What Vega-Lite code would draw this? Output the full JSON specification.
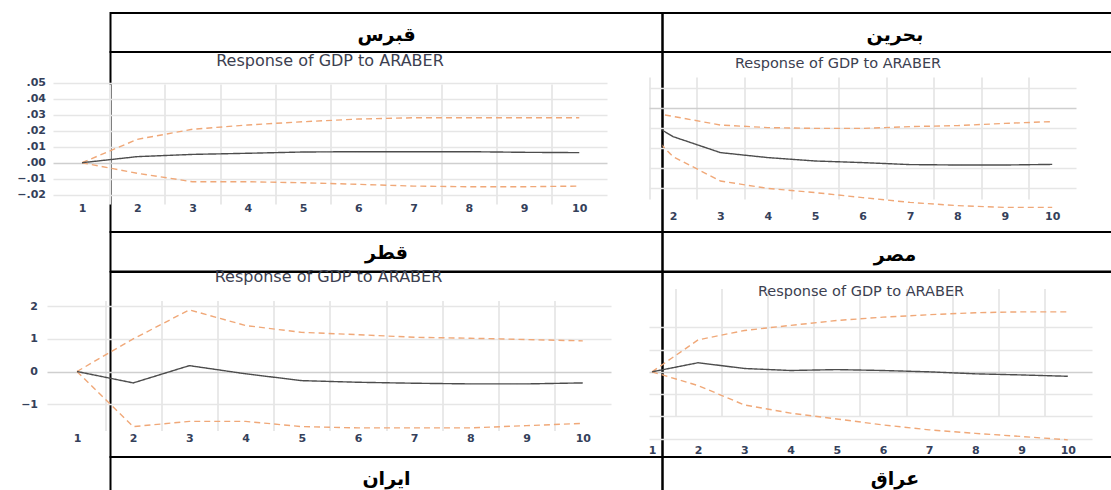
{
  "$schema": "https://vega.github.io/schema/vega-lite/v6.json",
  "background": "white",
  "padding": {"left": 15.5, "top": 12, "right": 0, "bottom": 0},
  "columns": 2,
  "spacing": 0,
  "bounds": "flush",
  "datasets": {
    "irf": [
      {"country": "Cyprus", "period": 1, "response": 0, "lower": 0, "upper": 0},
      {"country": "Cyprus", "period": 2, "response": 0.0038, "lower": -0.0066, "upper": 0.0146},
      {"country": "Cyprus", "period": 3, "response": 0.0052, "lower": -0.0119, "upper": 0.0209},
      {"country": "Cyprus", "period": 4, "response": 0.0059, "lower": -0.0119, "upper": 0.0236},
      {"country": "Cyprus", "period": 5, "response": 0.0067, "lower": -0.0125, "upper": 0.0256},
      {"country": "Cyprus", "period": 6, "response": 0.0069, "lower": -0.0135, "upper": 0.0273},
      {"country": "Cyprus", "period": 7, "response": 0.0069, "lower": -0.0146, "upper": 0.0281},
      {"country": "Cyprus", "period": 8, "response": 0.0069, "lower": -0.0150, "upper": 0.0281},
      {"country": "Cyprus", "period": 9, "response": 0.0065, "lower": -0.0150, "upper": 0.0281},
      {"country": "Cyprus", "period": 10, "response": 0.0063, "lower": -0.0146, "upper": 0.0281},
      {"country": "Bahrain", "period": 1, "response": 0, "lower": 0, "upper": 0},
      {"country": "Bahrain", "period": 2, "response": -0.0143, "lower": -0.0243, "upper": -0.0042},
      {"country": "Bahrain", "period": 3, "response": -0.0223, "lower": -0.0365, "upper": -0.0085},
      {"country": "Bahrain", "period": 4, "response": -0.0248, "lower": -0.0402, "upper": -0.0098},
      {"country": "Bahrain", "period": 5, "response": -0.0265, "lower": -0.0423, "upper": -0.0102},
      {"country": "Bahrain", "period": 6, "response": -0.0273, "lower": -0.0448, "upper": -0.0102},
      {"country": "Bahrain", "period": 7, "response": -0.0283, "lower": -0.0472, "upper": -0.0093},
      {"country": "Bahrain", "period": 8, "response": -0.0285, "lower": -0.0488, "upper": -0.0088},
      {"country": "Bahrain", "period": 9, "response": -0.0285, "lower": -0.0497, "upper": -0.0077},
      {"country": "Bahrain", "period": 10, "response": -0.0282, "lower": -0.0497, "upper": -0.0068},
      {"country": "Qatar", "period": 1, "response": 0, "lower": 0, "upper": 0},
      {"country": "Qatar", "period": 2, "response": -0.35, "lower": -1.69, "upper": 1.00},
      {"country": "Qatar", "period": 3, "response": 0.18, "lower": -1.53, "upper": 1.89},
      {"country": "Qatar", "period": 4, "response": -0.07, "lower": -1.53, "upper": 1.41},
      {"country": "Qatar", "period": 5, "response": -0.28, "lower": -1.69, "upper": 1.20},
      {"country": "Qatar", "period": 6, "response": -0.33, "lower": -1.73, "upper": 1.13},
      {"country": "Qatar", "period": 7, "response": -0.36, "lower": -1.73, "upper": 1.05},
      {"country": "Qatar", "period": 8, "response": -0.38, "lower": -1.73, "upper": 1.02},
      {"country": "Qatar", "period": 9, "response": -0.38, "lower": -1.66, "upper": 0.98},
      {"country": "Qatar", "period": 10, "response": -0.35, "lower": -1.59, "upper": 0.94},
      {"country": "Egypt", "period": 1, "response": 0, "lower": 0, "upper": 0},
      {"country": "Egypt", "period": 2, "response": 0.41, "lower": -0.62, "upper": 1.44},
      {"country": "Egypt", "period": 3, "response": 0.15, "lower": -1.49, "upper": 1.86},
      {"country": "Egypt", "period": 4, "response": 0.06, "lower": -1.86, "upper": 2.09},
      {"country": "Egypt", "period": 5, "response": 0.10, "lower": -2.12, "upper": 2.31},
      {"country": "Egypt", "period": 6, "response": 0.06, "lower": -2.39, "upper": 2.46},
      {"country": "Egypt", "period": 7, "response": 0.00, "lower": -2.61, "upper": 2.57},
      {"country": "Egypt", "period": 8, "response": -0.09, "lower": -2.77, "upper": 2.66},
      {"country": "Egypt", "period": 9, "response": -0.14, "lower": -2.91, "upper": 2.70},
      {"country": "Egypt", "period": 10, "response": -0.20, "lower": -3.06, "upper": 2.70}
    ]
  },
  "concat": [
    {
      "width": 552, "height": 39,
      "data": {"values": [{"name": "قبرس"}]},
      "mark": {"type": "text", "font": "DejaVu Sans", "fontSize": 19, "fontWeight": "bold", "baseline": "middle", "color": "#000", "dy": 2},
      "encoding": {
        "x": {"datum": 0.5, "type": "quantitative", "scale": {"domain": [0, 1]}, "axis": null},
        "y": {"datum": 0.5, "type": "quantitative", "scale": {"domain": [0, 1]}, "axis": null},
        "text": {"field": "name"}
      }
    },
    {
      "width": 450, "height": 39,
      "data": {"values": [{"name": "بحرين"}]},
      "mark": {"type": "text", "font": "DejaVu Sans", "fontSize": 19, "fontWeight": "bold", "baseline": "middle", "color": "#000", "dy": 2, "dx": 7.5},
      "encoding": {
        "x": {"datum": 0.5, "type": "quantitative", "scale": {"domain": [0, 1]}, "axis": null},
        "y": {"datum": 0.5, "type": "quantitative", "scale": {"domain": [0, 1]}, "axis": null},
        "text": {"field": "name"}
      }
    },
    {
      "width": 552, "height": 180,
      "data": {"name": "irf"},
      "transform": [
        {"filter": "datum.country === 'Cyprus'"},
        {"fold": ["lower", "upper", "response"], "as": ["series", "value"]}
      ],
      "title": {"text": "Response of GDP to ARABER", "frame": "group", "anchor": "middle", "orient": "top", "baseline": "middle", "offset": -25, "dx": -56.5, "fontSize": 16},
      "mark": {"type": "line", "strokeWidth": 1.4},
      "encoding": {
        "x": {"field": "period", "type": "quantitative",
          "scale": {"domain": [0.4751, 10.502], "range": [-57.5, 496.5], "nice": false, "zero": false},
          "axis": {"title": null, "offset": -29.5, "values": [1, 1.5, 2, 2.5, 3, 3.5, 4, 4.5, 5, 5.5, 6, 6.5, 7, 7.5, 8, 8.5, 9, 9.5, 10],
            "labelExpr": "datum.value % 1 === 0 ? format(datum.value, 'd') : ''",
            "gridOpacity": {"condition": {"test": "datum.value % 1 === 0", "value": 0}, "value": 1}}},
        "y": {"field": "value", "type": "quantitative",
          "scale": {"domain": [-0.0233, 0.0517], "range": [148, 28], "nice": false, "zero": false},
          "axis": {"title": null, "offset": 65, "values": [-0.02, -0.01, 0, 0.01, 0.02, 0.03, 0.04, 0.05],
            "labelExpr": "replace(format(datum.value, '.2f'), '0.', '.')",
            "gridColor": {"condition": {"test": "datum.value === 0", "value": "#cfcfcf"}, "value": "#e6e6e6"}}},
        "color": {"field": "series", "type": "nominal", "legend": null,
          "scale": {"domain": ["lower", "upper", "response"], "range": ["#f0a878", "#f0a878", "#4d4d4d"]}},
        "strokeDash": {"field": "series", "type": "nominal", "legend": null,
          "scale": {"domain": ["lower", "upper", "response"], "range": [[6, 4], [6, 4], [1, 0]]}}
      }
    },
    {
      "width": 450, "height": 180,
      "data": {"name": "irf"},
      "transform": [
        {"filter": "datum.country === 'Bahrain'"},
        {"fold": ["lower", "upper", "response"], "as": ["series", "value"]}
      ],
      "title": {"text": "Response of GDP to ARABER", "frame": "group", "anchor": "middle", "orient": "top", "baseline": "middle", "offset": -26.5, "dx": -49.5, "fontSize": 14.5},
      "mark": {"type": "line", "strokeWidth": 1.4, "clip": true},
      "encoding": {
        "x": {"field": "period", "type": "quantitative",
          "scale": {"domain": [1.494, 10.502], "range": [-13.5, 413.5], "nice": false, "zero": false},
          "axis": {"title": null, "offset": -22, "values": [1.5, 2, 2.5, 3, 3.5, 4, 4.5, 5, 5.5, 6, 6.5, 7, 7.5, 8, 8.5, 9, 9.5, 10],
            "labelExpr": "datum.value % 1 === 0 ? format(datum.value, 'd') : ''",
            "gridOpacity": {"condition": {"test": "datum.value % 1 === 0", "value": 0}, "value": 1}}},
        "y": {"field": "value", "type": "quantitative",
          "scale": {"domain": [-0.0495, 0.0115], "range": [155, 33], "nice": false, "zero": false},
          "axis": {"title": null, "labels": false, "values": [-0.04, -0.03, -0.02, -0.01, 0, 0.01],
            "gridColor": {"condition": {"test": "datum.value === 0", "value": "#cfcfcf"}, "value": "#e6e6e6"}}},
        "color": {"field": "series", "type": "nominal", "legend": null,
          "scale": {"domain": ["lower", "upper", "response"], "range": ["#f0a878", "#f0a878", "#6e6e6e"]}},
        "strokeDash": {"field": "series", "type": "nominal", "legend": null,
          "scale": {"domain": ["lower", "upper", "response"], "range": [[6, 4], [6, 4], [1, 0]]}}
      }
    },
    {
      "width": 552, "height": 39.5,
      "data": {"values": [{"name": "قطر"}]},
      "mark": {"type": "text", "font": "DejaVu Sans", "fontSize": 19, "fontWeight": "bold", "baseline": "middle", "color": "#000", "dy": 1},
      "encoding": {
        "x": {"datum": 0.5, "type": "quantitative", "scale": {"domain": [0, 1]}, "axis": null},
        "y": {"datum": 0.5, "type": "quantitative", "scale": {"domain": [0, 1]}, "axis": null},
        "text": {"field": "name"}
      }
    },
    {
      "width": 450, "height": 39.5,
      "data": {"values": [{"name": "مصر"}]},
      "mark": {"type": "text", "font": "DejaVu Sans", "fontSize": 19, "fontWeight": "bold", "baseline": "middle", "color": "#000", "dy": 3, "dx": 7.5},
      "encoding": {
        "x": {"datum": 0.5, "type": "quantitative", "scale": {"domain": [0, 1]}, "axis": null},
        "y": {"datum": 0.5, "type": "quantitative", "scale": {"domain": [0, 1]}, "axis": null},
        "text": {"field": "name"}
      }
    },
    {
      "width": 552, "height": 185,
      "data": {"name": "irf"},
      "transform": [
        {"filter": "datum.country === 'Qatar'"},
        {"fold": ["lower", "upper", "response"], "as": ["series", "value"]}
      ],
      "title": {"text": "Response of GDP to ARABER", "frame": "group", "anchor": "middle", "orient": "top", "baseline": "middle", "offset": -21, "dx": -58, "fontSize": 16},
      "mark": {"type": "line", "strokeWidth": 1.4},
      "encoding": {
        "x": {"field": "period", "type": "quantitative",
          "scale": {"domain": [0.4662, 10.502], "range": [-63.5, 500.5], "nice": false, "zero": false},
          "axis": {"title": null, "offset": -25, "values": [1, 1.5, 2, 2.5, 3, 3.5, 4, 4.5, 5, 5.5, 6, 6.5, 7, 7.5, 8, 8.5, 9, 9.5, 10],
            "labelExpr": "datum.value % 1 === 0 ? format(datum.value, 'd') : ''",
            "gridOpacity": {"condition": {"test": "datum.value % 1 === 0", "value": 0}, "value": 1}}},
        "y": {"field": "value", "type": "quantitative",
          "scale": {"domain": [-1.748, 2.239], "range": [156.5, 26.5], "nice": false, "zero": false},
          "axis": {"title": null, "offset": 73, "values": [-1, 0, 1, 2],
            "labelExpr": "format(datum.value, 'd')",
            "gridColor": {"condition": {"test": "datum.value === 0", "value": "#cfcfcf"}, "value": "#e6e6e6"}}},
        "color": {"field": "series", "type": "nominal", "legend": null,
          "scale": {"domain": ["lower", "upper", "response"], "range": ["#f0a878", "#f0a878", "#4d4d4d"]}},
        "strokeDash": {"field": "series", "type": "nominal", "legend": null,
          "scale": {"domain": ["lower", "upper", "response"], "range": [[6, 4], [6, 4], [1, 0]]}}
      }
    },
    {
      "width": 450, "height": 185,
      "data": {"name": "irf"},
      "transform": [
        {"filter": "datum.country === 'Egypt'"},
        {"fold": ["lower", "upper", "response"], "as": ["series", "value"]}
      ],
      "title": {"text": "Response of GDP to ARABER", "frame": "group", "anchor": "middle", "orient": "top", "baseline": "middle", "offset": -34, "dx": -26.5, "fontSize": 14.5},
      "mark": {"type": "line", "strokeWidth": 1.4},
      "encoding": {
        "x": {"field": "period", "type": "quantitative",
          "scale": {"domain": [0.935, 10.524], "range": [-13.5, 429.5], "nice": false, "zero": false},
          "axis": {"title": null, "offset": -13, "values": [1, 1.5, 2, 2.5, 3, 3.5, 4, 4.5, 5, 5.5, 6, 6.5, 7, 7.5, 8, 8.5, 9, 9.5, 10],
            "labelExpr": "datum.value % 1 === 0 ? format(datum.value, 'd') : ''",
            "gridOpacity": {"condition": {"test": "datum.value % 1 === 0", "value": 0}, "value": 1}}},
        "y": {"field": "value", "type": "quantitative",
          "scale": {"domain": [-3.09, 2.67], "range": [168.5, 40.5], "nice": false, "zero": false},
          "axis": {"title": null, "labels": false, "values": [-3, -2, -1, 0, 1, 2],
            "gridColor": {"condition": {"test": "datum.value === 0", "value": "#cfcfcf"}, "value": "#e6e6e6"}}},
        "color": {"field": "series", "type": "nominal", "legend": null,
          "scale": {"domain": ["lower", "upper", "response"], "range": ["#f0a878", "#f0a878", "#555555"]}},
        "strokeDash": {"field": "series", "type": "nominal", "legend": null,
          "scale": {"domain": ["lower", "upper", "response"], "range": [[6, 4], [6, 4], [1, 0]]}}
      }
    },
    {
      "width": 552, "height": 36,
      "data": {"values": [{"name": "ایران"}]},
      "mark": {"type": "text", "font": "DejaVu Sans", "fontSize": 19, "fontWeight": "bold", "baseline": "middle", "color": "#000", "dy": 3.5},
      "encoding": {
        "x": {"datum": 0.5, "type": "quantitative", "scale": {"domain": [0, 1]}, "axis": null},
        "y": {"datum": 0.5, "type": "quantitative", "scale": {"domain": [0, 1]}, "axis": null},
        "text": {"field": "name"}
      }
    },
    {
      "width": 450, "height": 36,
      "data": {"values": [{"name": "عراق"}]},
      "mark": {"type": "text", "font": "DejaVu Sans", "fontSize": 19, "fontWeight": "bold", "baseline": "middle", "color": "#000", "dy": 3.5, "dx": 7.5},
      "encoding": {
        "x": {"datum": 0.5, "type": "quantitative", "scale": {"domain": [0, 1]}, "axis": null},
        "y": {"datum": 0.5, "type": "quantitative", "scale": {"domain": [0, 1]}, "axis": null},
        "text": {"field": "name"}
      }
    }
  ],
  "config": {
    "view": {"stroke": "#000000", "strokeWidth": 2},
    "axis": {
      "ticks": false, "tickSize": 0, "domain": false,
      "labelFont": "DejaVu Sans", "labelFontSize": 11, "labelFontWeight": "bold", "labelColor": "#34405a",
      "labelPadding": 0, "labelFlush": false, "labelOverlap": false, "labelBound": false,
      "gridColor": "#e6e6e6", "gridWidth": 1.5
    },
    "axisX": {"gridColor": "#e9e9e9", "gridWidth": 2},
    "title": {"font": "DejaVu Sans", "fontWeight": "normal", "color": "#3c4050"}
  }
}
